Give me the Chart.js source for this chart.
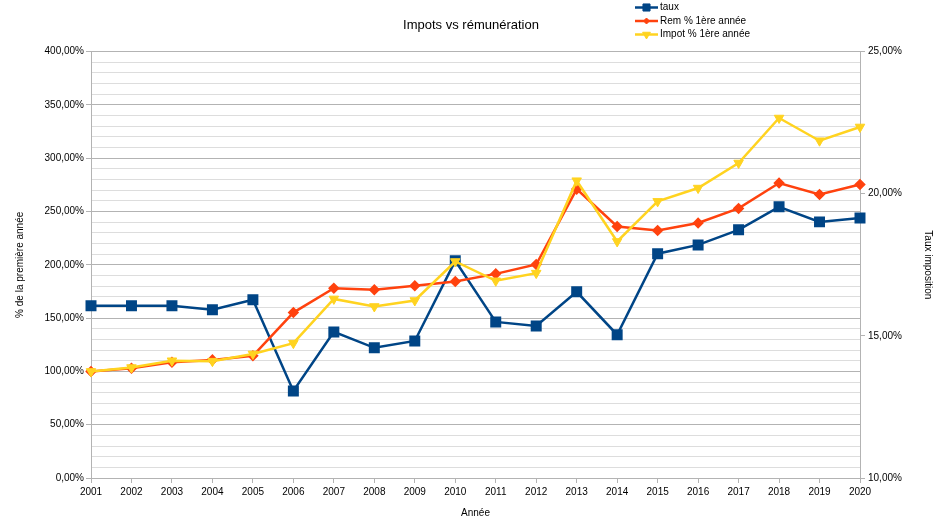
<!DOCTYPE html>
<html>
<head>
<meta charset="utf-8">
<script src="https://cdn.jsdelivr.net/npm/chart.js@4.4.0/dist/chart.umd.min.js"></script>
<style>
  body { margin: 0; background: #fff; }
</style>
</head>
<body>
<canvas id="graphique" width="942" height="531"></canvas>
<script>
// donnees
var annees = ["2001", "2002", "2003", "2004", "2005", "2006", "2007", "2008", "2009", "2010",
              "2011", "2012", "2013", "2014", "2015", "2016", "2017", "2018", "2019", "2020"];

// taux d'imposition (axe de droite, en %)
var taux = [16.06, 16.06, 16.06, 15.92, 16.27, 13.06, 15.14, 14.58, 14.82, 17.64,
            15.49, 15.35, 16.55, 15.04, 17.89, 18.20, 18.73, 19.54, 19.01, 19.15];

// remuneration en % de la 1ere annee (axe de gauche)
var rem = [100, 103, 108.6, 110.8, 114.6, 155.2, 178.1, 176.5, 180.3, 184.3,
           191.5, 200.3, 271, 236, 232.2, 239.2, 252.9, 276.7, 266, 275.4];

// impot en % de la 1ere annee (axe de gauche)
var impot = [100, 103.6, 110, 109.6, 116.4, 126.5, 168, 160.9, 166.5, 203.1,
             185, 192.2, 278.9, 221.9, 259.5, 272, 295.5, 337.7, 316.4, 329.3];

var couleurs = ["#004586", "#ff420e", "#ffd320"];
var grisFort = "#b3b3b3";
var grisClair = "#dddddd";

Chart.defaults.font.family = '"Liberation Sans", Arial, sans-serif';
Chart.defaults.font.size = 10;
Chart.defaults.color = "#000";

function pourcent(v) {
    return v.toFixed(2).replace(".", ",") + "%";
}

// legende dessinee a la main (en haut a droite)
var legende = {
    id: "legende",
    afterDraw: function (chart) {
        var ctx = chart.ctx;
        chart.data.datasets.forEach(function (ds, i) {
            var y = 7.5 + i * 13.5;
            ctx.save();
            ctx.strokeStyle = ds.borderColor;
            ctx.fillStyle = ds.backgroundColor;
            ctx.lineWidth = 2.5;
            ctx.beginPath();
            ctx.moveTo(635, y);
            ctx.lineTo(658, y);
            ctx.stroke();
            ctx.lineWidth = 1;
            Chart.helpers.drawPoint(ctx, {
                pointStyle: ds.pointStyle,
                radius: ds.pointRadius - 1,
                rotation: ds.pointRotation || 0,
                borderWidth: 1
            }, 646.5, y);
            ctx.fillStyle = "#000";
            ctx.font = '10px "Liberation Sans", Arial, sans-serif';
            ctx.textBaseline = "middle";
            ctx.fillText(ds.label, 660, y);
            ctx.restore();
        });
    }
};

var chart = new Chart(document.getElementById("graphique"), {
    type: "line",
    data: {
        labels: annees,
        datasets: [{
            label: "taux",
            data: taux,
            yAxisID: "y1",
            order: 3,
            borderColor: couleurs[0],
            backgroundColor: couleurs[0],
            borderWidth: 2.5,
            pointStyle: "rect",
            pointRadius: 6,
            pointHoverRadius: 6
        }, {
            label: "Rem % 1ère année",
            data: rem,
            yAxisID: "y",
            order: 2,
            borderColor: couleurs[1],
            backgroundColor: couleurs[1],
            borderWidth: 2.5,
            pointStyle: "rectRot",
            pointRadius: 4,
            pointHoverRadius: 4
        }, {
            label: "Impot % 1ère année",
            data: impot,
            yAxisID: "y",
            order: 1,
            borderColor: couleurs[2],
            backgroundColor: couleurs[2],
            borderWidth: 2.5,
            pointStyle: "triangle",
            pointRotation: 180,
            pointRadius: 5.5,
            pointBorderWidth: 1,
            pointHoverRadius: 5.5
        }]
    },
    options: {
        responsive: false,
        animation: false,
        plugins: {
            legend: { display: false },
            tooltip: { enabled: false },
            title: {
                display: true,
                text: "Impots vs rémunération",
                font: { size: 13, weight: "normal" },
                color: "#000",
                padding: { top: 18, bottom: 18 }
            }
        },
        scales: {
            x: {
                offset: false,
                grid: { drawOnChartArea: false, color: grisFort, tickLength: 5 },
                border: { color: grisFort },
                ticks: { padding: 3, maxRotation: 0, autoSkip: false },
                title: { display: true, text: "Année", padding: { top: 4, bottom: 12 } },
                afterFit: function (scale) { scale.height = 53; }
            },
            y: {
                position: "left",
                min: 0,
                max: 400,
                grid: {
                    color: function (c) { return c.tick.value % 50 === 0 ? grisFort : grisClair; },
                    tickColor: function (c) { return c.tick.value % 50 === 0 ? grisFort : "rgba(0,0,0,0)"; },
                    tickLength: 5
                },
                border: { color: grisFort },
                ticks: {
                    stepSize: 10,
                    maxTicksLimit: 60,
                    autoSkip: false,
                    padding: 2,
                    callback: function (v) { return v % 50 === 0 ? pourcent(v) : ""; }
                },
                title: { display: true, text: "% de la première année", padding: { top: 14, bottom: 0 } },
                afterFit: function (scale) { scale.width = 91; }
            },
            y1: {
                position: "right",
                min: 10,
                max: 25,
                grid: { drawOnChartArea: false, color: grisFort, tickLength: 5 },
                border: { color: grisFort },
                ticks: {
                    stepSize: 5,
                    padding: 3,
                    callback: function (v) { return pourcent(v); }
                },
                title: { display: true, text: "Taux imposition", padding: { top: 8, bottom: 0 } },
                afterFit: function (scale) { scale.width = 82; }
            }
        }
    },
    plugins: [legende]
});
</script>
</body>
</html>
